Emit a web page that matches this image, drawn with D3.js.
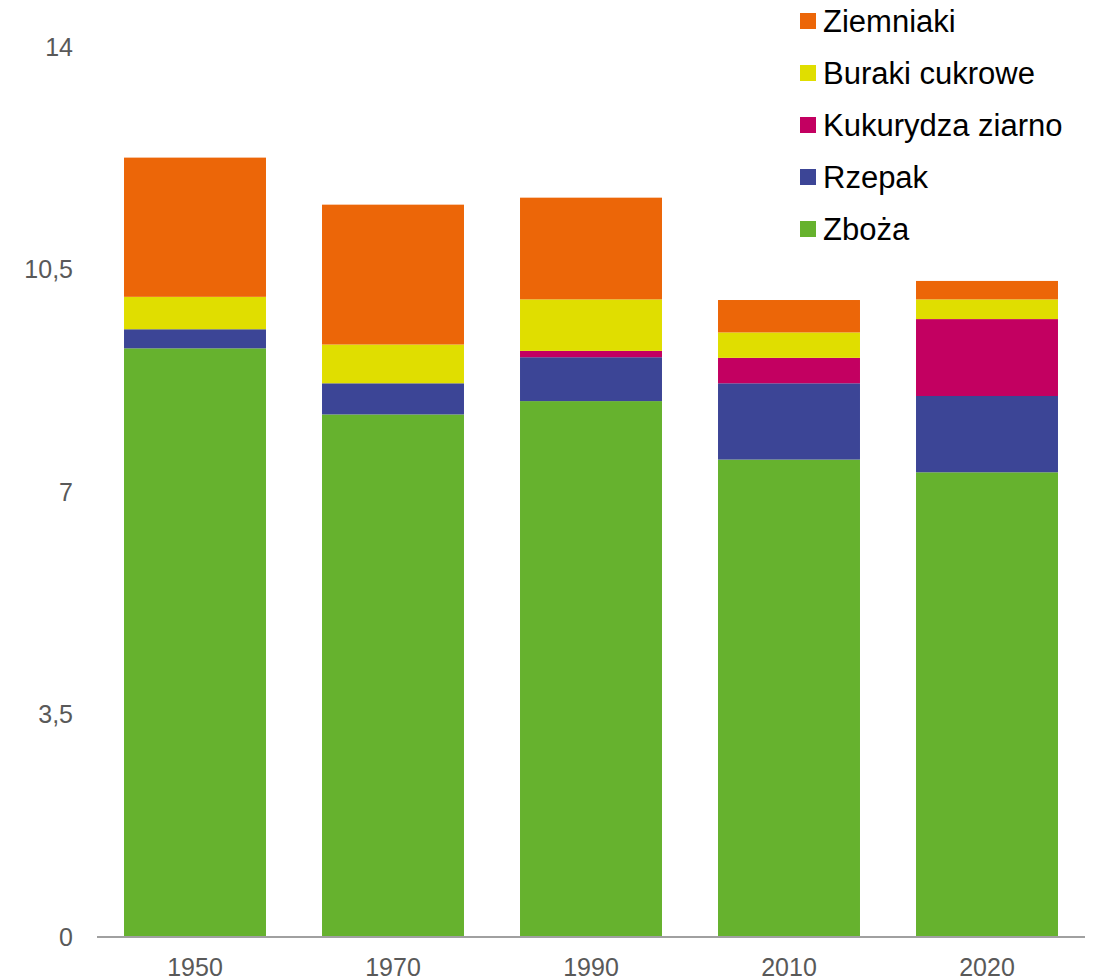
<!DOCTYPE html>
<html>
<head>
<meta charset="utf-8">
<script src="https://cdn.jsdelivr.net/npm/d3@7"></script>
<style>
  body { margin: 0; background: #fff; }
  text { font-family: "Liberation Sans", Arial, sans-serif; }
</style>
</head>
<body>
<script>
// years on the x axis
var years = ['1950', '1970', '1990', '2010', '2020'];

// series values, bottom to top of each stack
var zboza      = [9.26, 8.22, 8.43, 7.51, 7.31];
var rzepak     = [0.30, 0.49, 0.69, 1.20, 1.20];
var kukurydza  = [0.00, 0.00, 0.10, 0.40, 1.21];
var buraki     = [0.51, 0.61, 0.81, 0.40, 0.31];
var ziemniaki  = [2.19, 2.20, 1.60, 0.51, 0.29];

var seriesNames = ['Zboża', 'Rzepak', 'Kukurydza ziarno', 'Buraki cukrowe', 'Ziemniaki'];
var seriesColors = ['#66b22e', '#3c4596', '#c30061', '#e0de00', '#ec6608'];
var yTicks = [0, 3.5, 7, 10.5, 14];

var width = 1097, height = 980;
var margin = {left: 96, right: 11, top: 47, bottom: 43};

// build table for d3.stack from the arrays
var table = years.map(function(y, i) {
  return {year: y, 'Zboża': zboza[i], 'Rzepak': rzepak[i], 'Kukurydza ziarno': kukurydza[i],
          'Buraki cukrowe': buraki[i], 'Ziemniaki': ziemniaki[i]};
});
var stacked = d3.stack().keys(seriesNames)(table);

var x = d3.scaleBand()
    .domain(years)
    .range([margin.left, width - margin.right])
    .paddingInner(0.283)
    .paddingOuter(0.1415);

var y = d3.scaleLinear()
    .domain([0, 14])
    .range([height - margin.bottom, margin.top]);

var color = d3.scaleOrdinal().domain(seriesNames).range(seriesColors);

var svg = d3.select("body").append("svg").attr("width", width).attr("height", height);

// bars
svg.append("g").selectAll("g")
  .data(stacked).enter().append("g")
    .attr("fill", function(d) { return color(d.key); })
  .selectAll("rect")
  .data(function(d) { return d; }).enter().append("rect")
    .attr("x", function(d) { return x(d.data.year); })
    .attr("width", x.bandwidth())
    .attr("y", function(d) { return y(d[1]); })
    .attr("height", function(d) { return y(d[0]) - y(d[1]); });

// y axis labels (no line)
var yAxis = d3.axisLeft(y).tickValues(yTicks).tickSize(0).tickPadding(0)
    .tickFormat(function(d) { return String(d).replace('.', ','); });
var yg = svg.append("g").attr("transform", "translate(73,0)").call(yAxis);
yg.select(".domain").remove();
yg.selectAll("text").attr("font-size", 25).attr("fill", "#595959")
    .attr("font-family", "Liberation Sans, Arial, sans-serif");

// x axis
var xAxis = d3.axisBottom(x).tickSize(0).tickPadding(21);
var xg = svg.append("g").attr("transform", "translate(0," + y(0) + ")").call(xAxis);
xg.select(".domain").attr("stroke", "#a0a0a0").attr("stroke-width", 2)
    .attr("d", "M" + (margin.left + 1) + ",0H" + (width - margin.right - 1));
xg.selectAll("text").attr("font-size", 25).attr("fill", "#595959")
    .attr("font-family", "Liberation Sans, Arial, sans-serif");

// legend, top item = top of stack
var legendItems = seriesNames.slice().reverse();
var legend = svg.append("g").attr("transform", "translate(800,21)");
var li = legend.selectAll("g").data(legendItems).enter().append("g")
    .attr("transform", function(d, i) { return "translate(0," + (i * 52) + ")"; });
li.append("rect").attr("x", 0).attr("y", -8).attr("width", 16).attr("height", 16)
    .attr("fill", function(d) { return color(d); });
li.append("text").attr("x", 23).attr("y", 0).attr("dy", "0.35em")
    .attr("font-size", 31).attr("fill", "#000").text(function(d) { return d; });
</script>
</body>
</html>
